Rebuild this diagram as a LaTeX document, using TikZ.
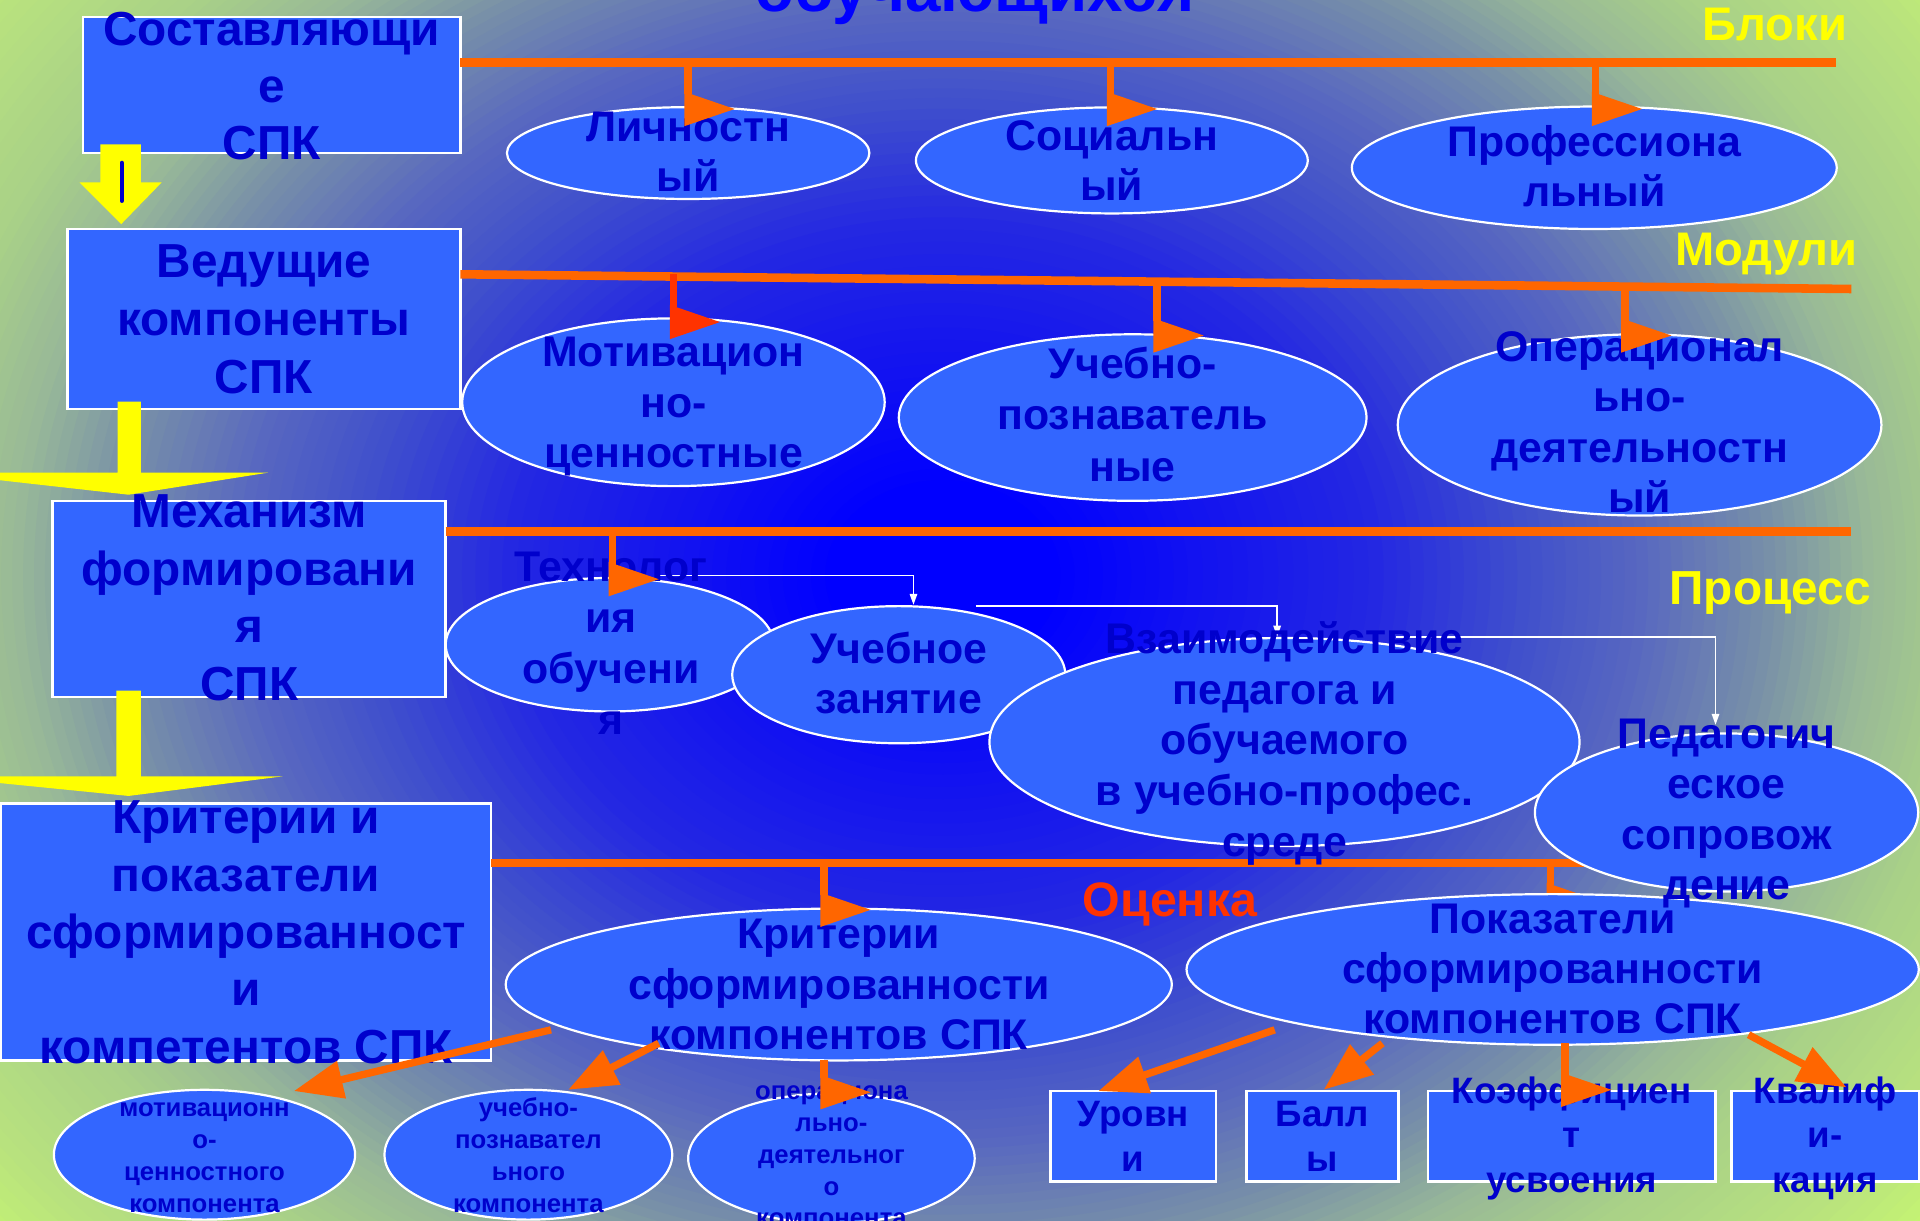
\documentclass[tikz,border=0pt]{standalone}
\usepackage{fontspec}
\setmainfont{Liberation Sans}
\usetikzlibrary{arrows.meta,shapes.geometric}
\definecolor{fillb}{HTML}{3366FF}
\definecolor{txtb}{HTML}{0000CC}
\definecolor{org}{HTML}{FF6600}
\definecolor{orgr}{HTML}{FF3300}
\definecolor{ttlb}{HTML}{0000FF}
\definecolor{ylw}{HTML}{FFFF00}
\definecolor{gA}{HTML}{0000FF}
\definecolor{gC}{HTML}{1010F2}
\definecolor{gD}{HTML}{2428E2}
\definecolor{gE}{HTML}{4050CC}
\definecolor{gF}{HTML}{5868C0}
\definecolor{gG}{HTML}{7890A8}
\definecolor{gH}{HTML}{98B898}
\definecolor{gI}{HTML}{A8D088}
\definecolor{gJ}{HTML}{B8E27E}
\definecolor{gK}{HTML}{C8F870}
% background: nested ellipses, outer to inner
\newcommand\bgseg[5]{% tA tB colA colB steps
  \foreach \bgJ in {0,...,#5}{%
    \pgfmathsetmacro\bgT{#1-\bgJ*(#1-#2)/(#5+1)}%
    \pgfmathsetmacro\bgP{100*(\bgT-#2)/(#1-#2)}%
    \pgfmathsetmacro\bgRx{\bgT*800}%
    \pgfmathsetmacro\bgRy{\bgT*650}%
    \fill[#3!\bgP!#4] (770,470) ellipse [x radius=\bgRx pt, y radius=\bgRy pt];}}
\newcommand\tlines[6]{%
  \foreach \lnT [count=\lnK from 0] in {#6}{\node[#2] (#1\lnK) at (#3,{#4+\lnK*#5}) {\lnT};}}
\newcommand\oflag[4][org]{%
  \draw[#1,line width=6pt] (#2,#3) -- (#2,{#4+2});
  \fill[#1] ({#2-3},#4) -- ({#2-3},{#4+28}) -- ({#2+38},{#4+14}) -- cycle;}
\begin{document}
\begin{tikzpicture}[x=1pt,y=-1pt,
  box/.style={rectangle,draw=white,line width=2pt,fill=fillb,inner sep=0pt,outer sep=0pt},
  ell/.style={ellipse,draw=white,line width=1.8pt,fill=fillb,inner sep=0pt,outer sep=0pt},
  bigt/.style={text=txtb,font=\bfseries\fontsize{39}{42}\selectfont,inner sep=0pt,anchor=base},
  midt/.style={text=txtb,font=\bfseries\fontsize{35}{40}\selectfont,inner sep=0pt,anchor=base},
  smlt/.style={text=txtb,font=\bfseries\fontsize{30}{34}\selectfont,inner sep=0pt,anchor=base},
  tinyt/.style={text=txtb,font=\bfseries\fontsize{21}{24}\selectfont,inner sep=0pt,anchor=base},
  lbl/.style={text=ylw,font=\bfseries\fontsize{38.5}{42}\selectfont,inner sep=0pt,anchor=base},
  oline/.style={draw=org,line width=7pt},
  oarrow/.style={draw=org,line width=6pt,-{Triangle[length=40pt,width=30pt]}},
  warrow/.style={draw=white,line width=1.5pt,-{Triangle[length=9pt,width=6pt]}},
]
\useasboundingbox (0,0) rectangle (1568,997);
\clip (0,0) rectangle (1568,997);
\fill[gK] (0,0) rectangle (1568,997);
\bgseg{1.32}{1.2}{gK}{gJ}{8}
\bgseg{1.2}{1.05}{gJ}{gI}{10}
\bgseg{1.05}{0.95}{gI}{gH}{8}
\bgseg{0.95}{0.85}{gH}{gG}{8}
\bgseg{0.85}{0.72}{gG}{gF}{10}
\bgseg{0.72}{0.6}{gF}{gE}{9}
\bgseg{0.6}{0.45}{gE}{gD}{10}
\bgseg{0.45}{0.25}{gD}{gC}{12}
\bgseg{0.25}{0.12}{gC}{gA}{8}
\fill[gA] (770,470) ellipse [x radius=96pt, y radius=78pt];
% title (cut off)
\node[text=ttlb,font=\bfseries\fontsize{52}{56}\selectfont,inner sep=0pt,anchor=base] (title) at (796,9.5) {обучающихся};
% left boxes
\node[box,minimum width=308pt,minimum height=111pt] (b1) at (222,69.5) {};
\node[box,minimum width=321pt,minimum height=147pt] (b2) at (215.5,260.5) {};
\node[box,minimum width=321pt,minimum height=160pt] (b3) at (203.5,489) {};
\node[box,minimum width=400pt,minimum height=210pt] (b4) at (201,761) {};
% yellow arrows
\fill[ylw] (82,118) -- (115,118) -- (115,149) -- (132,149) -- (99,183) -- (65,149) -- (82,149) -- cycle;
\draw[txtb,line width=3.5pt,line cap=round] (99.5,133) -- (99.5,164);
\fill[ylw] (96,328) -- (115,328) -- (115,386) -- (219,386) -- (105,404) -- (-55,386) -- (96,386) -- cycle;
\fill[ylw] (95,564) -- (115,564) -- (115,634) -- (231,634) -- (105,650) -- (-55,634) -- (95,634) -- cycle;
% orange bus lines
\draw[oline] (376,51) -- (1499,51);
\draw[oline] (376,224) -- (1512,236);
\draw[oline] (364,434) -- (1512,434);
% ellipses
\node[ell,minimum width=296pt,minimum height=75pt] (e1) at (562,125) {};
\node[ell,minimum width=320pt,minimum height=86.6pt] (e2) at (908,131) {};
\node[ell,minimum width=396pt,minimum height=100pt] (e3) at (1302,137) {};
\node[ell,minimum width=345pt,minimum height=137pt] (e4) at (550,328.5) {};
\node[ell,minimum width=382pt,minimum height=136pt] (e5) at (925,341) {};
\node[ell,minimum width=395pt,minimum height=148pt] (e6) at (1339,347) {};
\node[ell,minimum width=268pt,minimum height=109pt] (e7) at (498,526.5) {};
\node[ell,minimum width=272pt,minimum height=112pt] (e8) at (734,551) {};
\node[ell,minimum width=482pt,minimum height=170pt] (e9) at (1049,606) {};
% white connectors
\draw[warrow] (538,470) -| (746,494);
\draw[warrow] (797,495) -| (1043,520);
\draw[warrow] (1140,520) -| (1401,592);
% evaluation bus
\draw[draw=org,line width=6.5pt] (401,705) -- (1300,705);
\oflag{1266}{705}{721}
\node[ell,minimum width=313pt,minimum height=129pt] (e10) at (1410,663.5) {};
\node[ell,minimum width=544pt,minimum height=124pt] (e11) at (685,804) {};
\node[ell,minimum width=598pt,minimum height=123pt] (e12) at (1268,791.7) {};
% bottom row
\node[ell,minimum width=246pt,minimum height=106pt] (e13) at (167,943) {};
\node[ell,minimum width=235pt,minimum height=106pt] (e14) at (431.5,943) {};
\node[ell,minimum width=234pt,minimum height=106pt] (e15) at (679,946) {};
\node[box,minimum width=135pt,minimum height=74pt] (b5) at (925.5,928) {};
\node[box,minimum width=124pt,minimum height=74pt] (b6) at (1080,928) {};
\node[box,minimum width=235pt,minimum height=74pt] (b7) at (1283.5,928) {};
\node[box,minimum width=153pt,minimum height=74pt] (b8) at (1490.5,928) {};
% texts
\tlines{tb1}{bigt}{222}{37}{46.5}{Составляющи,е,СПК}
\tlines{tb2}{bigt}{215.5}{227}{47}{Ведущие,компоненты,СПК}
\tlines{tb3}{bigt}{203.5}{431}{47}{Механизм,формировани,я,СПК}
\tlines{tb4}{bigt}{201}{681}{46.8}{Критерии и,показатели,сформированност,и,компетентов СПК}
\tlines{te1}{midt}{562}{115.7}{41}{Личностн,ый}
\tlines{te2}{midt}{908}{122.5}{41}{Социальн,ый}
\tlines{te3}{midt}{1302}{128}{41}{Профессиона,льный}
\tlines{te4}{midt}{550}{299.5}{41.3}{Мотивацион,но-,ценностные}
\tlines{te5}{midt}{925}{309}{42}{Учебно-,познаватель,ные}
\tlines{te6}{midt}{1339}{295}{41.3}{Операционал,ьно-,деятельностн,ый}
\tlines{te7}{midt}{499}{475}{41.5}{Технолог,ия,обучени,я}
\tlines{te8}{midt}{734}{541.5}{41}{Учебное,занятие}
\tlines{te9}{midt}{1049}{533.5}{41.5}{Взаимодействие,педагога и,обучаемого,в учебно-профес.,среде}
\tlines{te10}{midt}{1410}{611}{41.3}{Педагогич,еское,сопровож,дение}
\tlines{te11}{midt}{685}{775}{41}{Критерии,сформированности,компонентов СПК}
\tlines{te12}{midt}{1268}{762}{41}{Показатели,сформированности,компонентов СПК}
\tlines{te13}{tinyt}{167}{912}{26}{мотивационн,о-,ценностного,компонента}
\tlines{te14}{tinyt}{431.5}{912}{26}{учебно-,познавател,ьного,компонента}
\tlines{te15}{tinyt}{679}{898}{26}{операциона,льно-,деятельног,о,компонента}
\tlines{tb5}{smlt}{925.5}{920}{37}{Уровн,и}
\tlines{tb6}{smlt}{1080}{920}{37}{Балл,ы}
\tlines{tb7}{smlt}{1283.5}{901}{36.5}{Коэффициен,т,усвоения}
\tlines{tb8}{smlt}{1490.5}{901}{36.5}{Квалиф,и-,кация}
% labels
\node[lbl] (lb1) at (1449.5,32.7) {Блоки};
\node[lbl] (lb2) at (1442.5,216.5) {Модули};
\node[lbl,font=\bfseries\fontsize{39}{42}\selectfont] (lb3) at (1445.5,494) {Процесс};
\node[lbl,text=orgr,font=\bfseries\fontsize{39.5}{42}\selectfont] (lb4) at (955.5,748.6) {Оценка};
% orange flag connectors
\oflag{562}{51}{75}
\oflag{907}{51}{75}
\oflag{1303}{51}{75}
\oflag[orgr]{550}{224}{249}
\oflag{945}{230}{260}
\oflag{1327}{233}{260}
\oflag{500}{434}{459}
\oflag{673}{705}{729}
\oflag{1278}{852}{876}
\oflag{673}{866}{878}
% orange angled arrows
\draw[oarrow] (1041,841) -- (897,891);
\draw[oarrow] (1129,852) -- (1081,890);
\draw[oarrow] (1428,845) -- (1508,888);
\draw[oarrow] (450,841) -- (240,891);
\draw[oarrow] (538,852) -- (464,890);
\end{tikzpicture}
\end{document}
